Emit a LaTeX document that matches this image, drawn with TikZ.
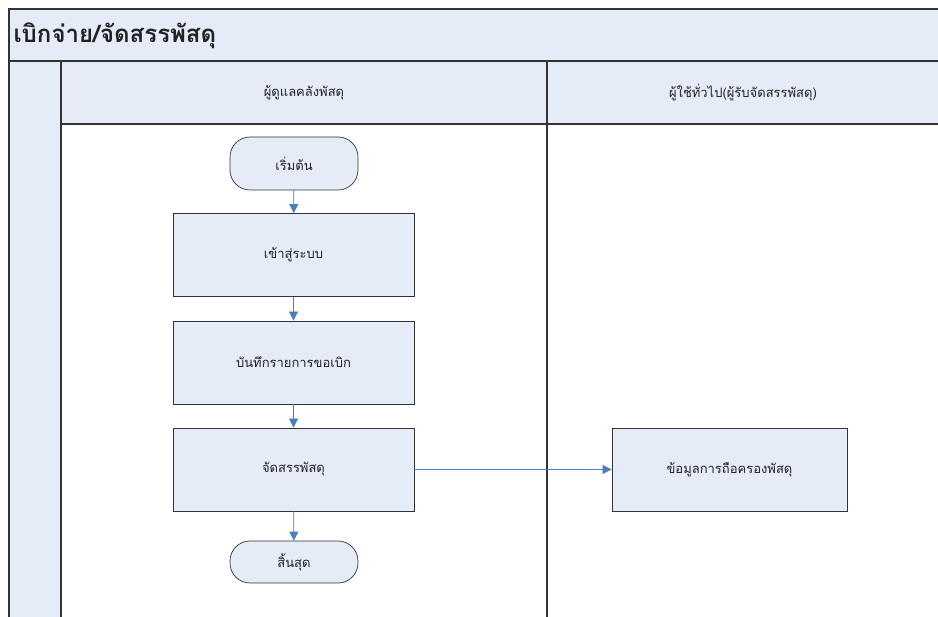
\documentclass[tikz,border=0pt]{standalone}
\usepackage{fontspec}
\newfontfamily\thaifont[Script=Thai]{Loma}
\usetikzlibrary{arrows.meta}
\usetikzlibrary{shapes}
\definecolor{laneFill}{HTML}{E5ECF7}
\definecolor{lineGray}{HTML}{333333}
\definecolor{flowBlue}{HTML}{4A7EC1}
\definecolor{textGray}{HTML}{222222}

\begin{document}
\begin{tikzpicture}[x=1pt, y=-1pt, font=\thaifont\fontsize{13}{15}\selectfont, text=textGray]
\tikzstyle{laneStyle} = [draw=lineGray, line width=1.2pt]
\tikzstyle{stepStyle} = [shape = rectangle, fill=laneFill, draw=lineGray, line width=0.9pt, minimum width=241pt, minimum height=83pt, inner sep=0pt]
\tikzstyle{termStyle} = [shape = rectangle, rounded corners=20pt, fill=laneFill, draw=lineGray, line width=0.7pt, minimum width=128pt, inner sep=0pt]
\tikzstyle{flowStyle} = [draw=flowBlue, line width=0.8pt, -{Triangle[width=9pt,length=9pt]}]
\useasboundingbox (0,0) rectangle (938,617);
% swimlane frame
\fill[white] (0,0) rectangle (938,617);
\fill[laneFill] (9,9) rectangle (938,124);
\fill[laneFill] (9,61) rectangle (61,617);
\draw[laneStyle] (938,9) -- (9,9) -- (9,617);
\draw[laneStyle] (9,61) -- (938,61);
\draw[laneStyle] (61,124) -- (938,124);
\draw[laneStyle] (61,61) -- (61,617);
\draw[laneStyle] (547,61) -- (547,617);
\node[anchor=west, font=\thaifont\bfseries\fontsize{24}{27}\selectfont] (title) at (10,36) {เบิกจ่าย/จัดสรรพัสดุ};
\node (laneA) at (304,93) {ผู้ดูแลคลังพัสดุ};
\node (laneB) at (743,93) {ผู้ใช้ทั่วไป(ผู้รับจัดสรรพัสดุ)};
% steps
\node[termStyle, minimum height=53pt] (start) at (294,163.5) {เริ่มต้น};
\node[stepStyle] (login) at (293.5,255) {เข้าสู่ระบบ};
\node[stepStyle] (record) at (293.5,362.5) {บันทึกรายการขอเบิก};
\node[stepStyle] (allot) at (293.5,469.5) {จัดสรรพัสดุ};
\node[termStyle, minimum height=42pt] (stop) at (294,562) {สิ้นสุด};
\node[stepStyle, minimum width=235pt] (holding) at (729.5,469.5) {ข้อมูลการถือครองพัสดุ};
\draw[flowStyle] (start) -- (login);
\draw[flowStyle] (login) -- (record);
\draw[flowStyle] (record) -- (allot);
\draw[flowStyle] (allot) -- (stop);
\draw[flowStyle] (allot) -- (holding);
\end{tikzpicture}
\end{document}
